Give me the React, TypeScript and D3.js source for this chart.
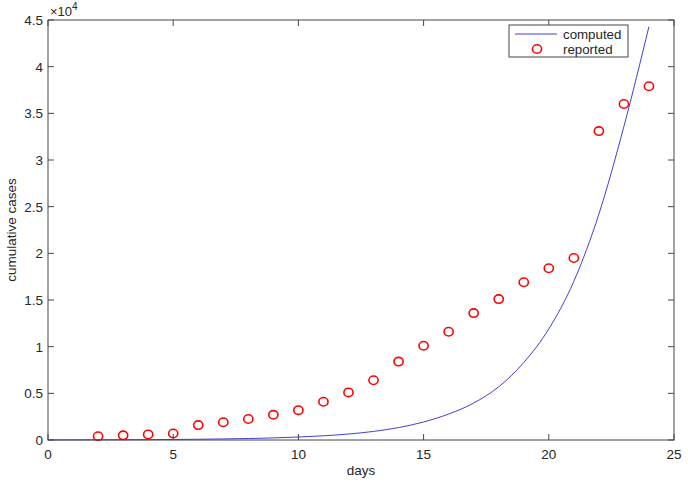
import * as React from 'react'
import { scaleLinear, line, curveMonotoneX } from 'd3'

// reported cumulative cases (days 2..24)
const reportedDays = [2, 3, 4, 5, 6, 7, 8, 9, 10, 11, 12, 13, 14, 15, 16, 17, 18, 19, 20, 21, 22, 23, 24]
const reportedCases = [
  400, 500, 600, 700, 1600, 1900, 2250, 2700, 3200, 4100, 5100, 6400, 8400, 10100, 11600, 13600, 15100,
  16900, 18400, 19500, 33100, 36000, 37900,
]

// computed model curve
const computedDays = [0, 1, 2, 3, 4, 5, 6, 7, 8, 9, 10, 11, 12, 13, 14, 15, 16, 17, 18, 19, 20, 21, 22, 23, 24]
const computedCases = [
  10, 14, 20, 28, 40, 57, 80, 115, 160, 225, 320, 450, 640, 920, 1330, 1930, 2780, 3960, 5700, 8300, 11900,
  17000, 24200, 33600, 44300,
]

const xTicks = [0, 5, 10, 15, 20, 25]
const yTicks = [0, 5000, 10000, 15000, 20000, 25000, 30000, 35000, 40000, 45000]

const W = 688
const H = 483
const left = 48
const right = 674
const top = 20
const bottom = 440
const axisColor = '#474747'
const textColor = '#262626'
const font = '"Liberation Sans", Arial, sans-serif'

export default function App() {
  const x = scaleLinear().domain([0, 25]).range([left, right])
  const y = scaleLinear().domain([0, 45000]).range([bottom, top])

  const path = line<number>()
    .x((d, i) => x(computedDays[i]))
    .y((d) => y(d))
    .curve(curveMonotoneX)(computedCases)

  const tick = 6

  return (
    <svg
      width={W}
      height={H}
      style={{ position: 'absolute', left: 0, top: 0, background: '#fff' }}
      fontFamily={font}
    >
      <rect x={0} y={0} width={W} height={H} fill="#fff" />

      <path d={path ?? ''} fill="none" stroke="#2a2ad0" strokeWidth={0.9} />

      {reportedCases.map((v, i) => (
        <ellipse
          key={i}
          cx={x(reportedDays[i])}
          cy={y(v)}
          rx={4.6}
          ry={4.2}
          fill="none"
          stroke="#ff0000"
          strokeWidth={1.6}
        />
      ))}

      {/* box */}
      <rect x={left} y={top} width={right - left} height={bottom - top} fill="none" stroke={axisColor} strokeWidth={1} />

      {xTicks.map((t) => (
        <g key={'x' + t}>
          <line x1={x(t)} x2={x(t)} y1={bottom} y2={bottom - tick} stroke={axisColor} />
          <line x1={x(t)} x2={x(t)} y1={top} y2={top + tick} stroke={axisColor} />
          <text x={x(t)} y={459} fontSize={13.5} fill={textColor} textAnchor="middle">
            {t}
          </text>
        </g>
      ))}

      {yTicks.map((t) => (
        <g key={'y' + t}>
          <line x1={left} x2={left + tick} y1={y(t)} y2={y(t)} stroke={axisColor} />
          <line x1={right} x2={right - tick} y1={y(t)} y2={y(t)} stroke={axisColor} />
          <text x={43} y={y(t) + 5} fontSize={13.5} fill={textColor} textAnchor="end">
            {t / 10000}
          </text>
        </g>
      ))}

      <text x={50} y={16} fontSize={13} fill={textColor}>
        ×10
        <tspan dy={-6} fontSize={10}>
          4
        </tspan>
      </text>

      <text x={(left + right) / 2} y={475} fontSize={13.5} fill={textColor} textAnchor="middle">
        days
      </text>
      <text
        transform={`translate(16, ${(top + bottom) / 2}) rotate(-90)`}
        fontSize={13.5}
        fill={textColor}
        textAnchor="middle"
      >
        cumulative cases
      </text>

      {/* legend */}
      <rect x={509} y={25} width={119} height={32} fill="#fff" stroke={axisColor} strokeWidth={1} />
      <line x1={515} x2={557} y1={34} y2={34} stroke="#2a2ad0" strokeWidth={0.9} />
      <text x={563} y={38.5} fontSize={13.3} fill={textColor}>
        computed
      </text>
      <ellipse cx={537} cy={49} rx={4.6} ry={4.2} fill="none" stroke="#ff0000" strokeWidth={1.6} />
      <text x={563} y={53.5} fontSize={13.3} fill={textColor}>
        reported
      </text>
    </svg>
  )
}
